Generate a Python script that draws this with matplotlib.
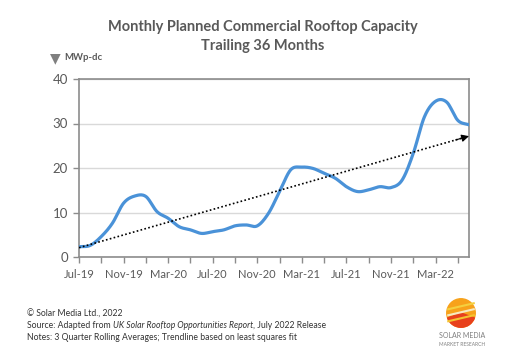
import numpy as np
import matplotlib
matplotlib.use("Agg")
import matplotlib.pyplot as plt
from matplotlib.patches import Circle, Wedge

# month index 0 = Jul-19 ... 35 = Jun-22
months = np.arange(36)
capacity = [2.3, 2.6, 4.6, 7.6, 12.1, 13.7, 13.6, 10.2, 8.7, 6.8,
            6.1, 5.3, 5.7, 6.1, 7.0, 7.2, 7.0, 9.8, 14.7, 19.6,
            20.2, 19.9, 18.8, 17.7, 15.8, 14.7, 15.1, 15.8, 15.6, 17.3,
            23.3, 31.5, 35.0, 34.8, 30.7, 29.7]
tick_labels = ["Jul-19", "Nov-19", "Mar-20", "Jul-20", "Nov-20",
               "Mar-21", "Jul-21", "Nov-21", "Mar-22"]
yticks = [0, 10, 20, 30, 40]

GREY = "#595959"
BLUE = "#4a92d8"


def smooth(x, y, n=20):
    # catmull-rom, roughly what excel "smoothed line" does
    x = np.asarray(x, float)
    y = np.asarray(y, float)
    px = np.concatenate([[2 * x[0] - x[1]], x, [2 * x[-1] - x[-2]]])
    py = np.concatenate([[2 * y[0] - y[1]], y, [2 * y[-1] - y[-2]]])
    xs, ys = [], []
    t = np.linspace(0, 1, n, endpoint=False)
    for i in range(1, len(px) - 2):
        for p, out in ((px, xs), (py, ys)):
            p0, p1, p2, p3 = p[i - 1], p[i], p[i + 1], p[i + 2]
            out.append(0.5 * ((2 * p1) + (-p0 + p2) * t
                              + (2 * p0 - 5 * p1 + 4 * p2 - p3) * t ** 2
                              + (-p0 + 3 * p1 - 3 * p2 + p3) * t ** 3))
    xs.append([x[-1]])
    ys.append([y[-1]])
    return np.concatenate(xs), np.concatenate(ys)


plt.rcParams['font.family'] = ['Lato', 'DejaVu Sans']

fig = plt.figure(figsize=(5.14, 3.5), dpi=100)
ax = fig.add_axes([79 / 514, 1 - 257 / 350, 390 / 514, 178 / 350])

sx, sy = smooth(months, capacity)
ax.plot(sx, sy, color=BLUE, lw=2.3, solid_capstyle='round', zorder=3)

# least squares trendline with arrow head
k, b = np.polyfit(months, capacity, 1)
x0, x1 = months[0], months[-1]
ax.plot([x0, x1 - 0.6], [k * x0 + b, k * (x1 - 0.6) + b], color='black',
        lw=1.2, ls=(0, (1, 1.4)), zorder=4)
ax.annotate('', xy=(x1, k * x1 + b), xytext=(x1 - 1.2, k * (x1 - 1.2) + b),
            arrowprops=dict(arrowstyle='-|>', color='black', lw=0.8,
                            mutation_scale=11, shrinkA=0, shrinkB=0), zorder=5)

ax.set_xlim(0, 35)
ax.set_ylim(0, 40)
ax.set_yticks(yticks)
ax.set_xticks(np.arange(0, 35, 2), minor=True)
ax.set_xticks(np.arange(0, 35, 4))
ax.set_xticklabels(tick_labels)
ax.yaxis.grid(True, color='#d9d9d9', lw=1)
ax.set_axisbelow(True)
for s in ax.spines.values():
    s.set_color('#8c8c8c')
    s.set_linewidth(1.2)
ax.tick_params(axis='y', colors='#8c8c8c', labelcolor=GREY, labelsize=9.5,
               length=4, width=1, pad=4)
ax.tick_params(axis='x', which='both', colors='#8c8c8c', labelcolor=GREY,
               labelsize=8, length=4, width=1, pad=5)

fig.text(263 / 514, 1 - 27 / 350, "Monthly Planned Commercial Rooftop Capacity",
         ha='center', va='center', fontsize=10.5, fontweight='bold', color=GREY)
fig.text(263 / 514, 1 - 46 / 350, "Trailing 36 Months",
         ha='center', va='center', fontsize=10.5, fontweight='bold', color=GREY)
fig.text(50 / 514, 1 - 58 / 350, "\u25BC", ha='left', va='center', fontsize=10,
         color='#7f7f7f', family=['DejaVu Sans'])
fig.text(64 / 514, 1 - 58 / 350, "MWp-dc", ha='left', va='center', fontsize=6.8,
         fontweight='bold', color=GREY)

# footer
fs = 6.2
fig.text(27 / 514, 1 - 314 / 350, "\u00A9 Solar Media Ltd., 2022", fontsize=fs,
         va='center', color='#333333')
t1 = fig.text(27 / 514, 1 - 326 / 350, "Source: Adapted from ", fontsize=fs,
              va='center', color='#333333')
r = fig.canvas.get_renderer()
e = t1.get_window_extent(r)
t2 = fig.text(e.x1 / 514, 1 - 326 / 350, "UK Solar Rooftop Opportunities Report",
              fontsize=fs, style='italic', va='center', color='#333333')
e = t2.get_window_extent(r)
fig.text(e.x1 / 514, 1 - 326 / 350, ", July 2022 Release", fontsize=fs,
         va='center', color='#333333')
fig.text(27 / 514, 1 - 338 / 350,
         "Notes: 3 Quarter Rolling Averages; Trendline based on least squares fit",
         fontsize=fs, va='center', color='#333333')

# logo
lax = fig.add_axes([446 / 514, 1 - 328 / 350, 30 / 514, 30 / 350])
lax.set_xlim(-1, 1)
lax.set_ylim(-1, 1)
lax.set_aspect('equal')
lax.axis('off')
lax.add_patch(Circle((0, 0), 0.95, color='#f7a21b'))
lax.add_patch(Wedge((0, 0), 0.95, 200, 340, color='#e8401c'))
for yy, c in [(0.45, '#f4d03f'), (0.05, '#f7e9c0'), (-0.35, '#f4c430')]:
    lax.plot([-0.85, 0.85], [yy - 0.2, yy + 0.2], color=c, lw=1.5)
fig.text(462 / 514, 1 - 336 / 350, "SOLAR MEDIA", ha='center', va='center',
         fontsize=5, color='#7f7f7f')
fig.text(462 / 514, 1 - 344 / 350, "MARKET RESEARCH", ha='center', va='center',
         fontsize=3.5, color='#7f7f7f')

fig.savefig("out.png", dpi=100)
